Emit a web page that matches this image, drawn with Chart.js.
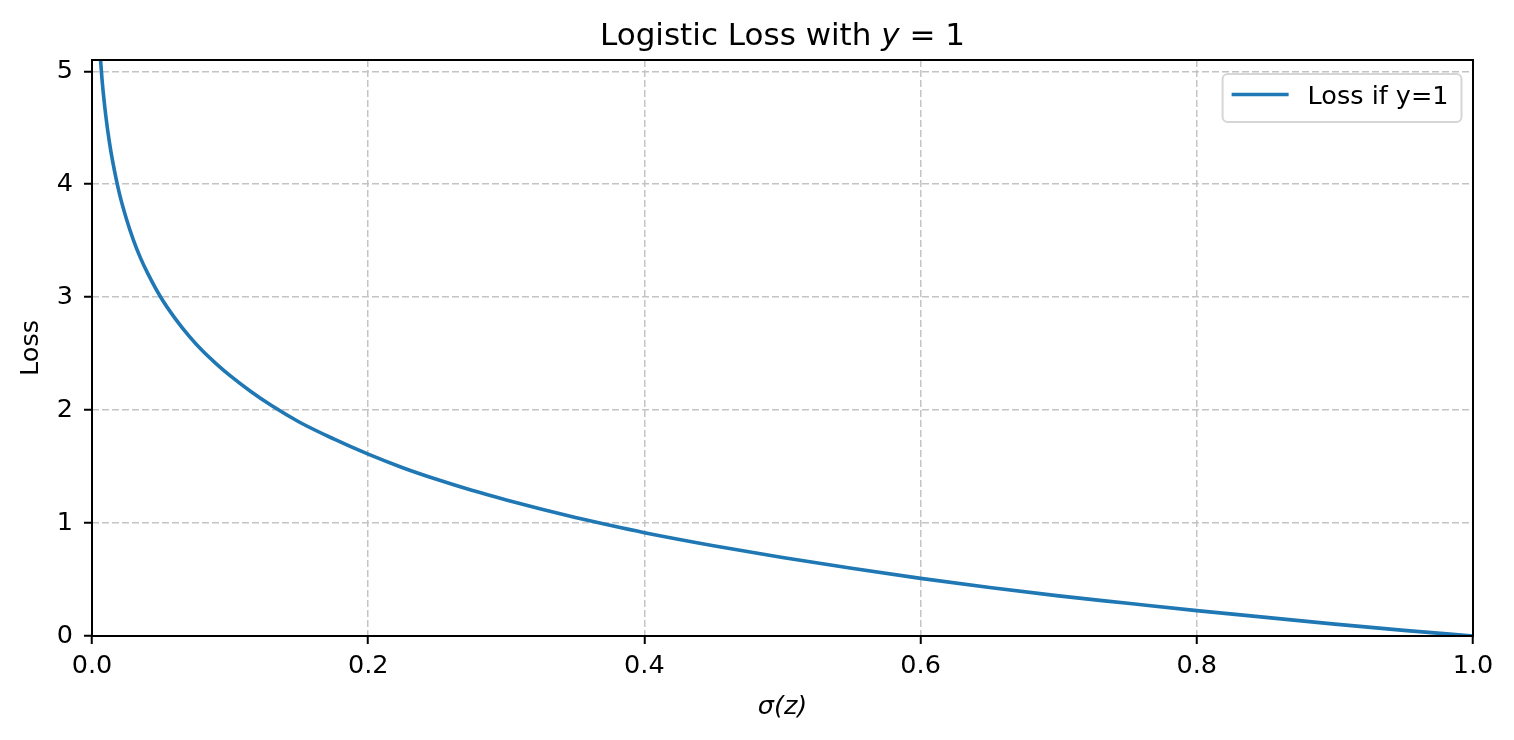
<!DOCTYPE html>
<html>
<head>
<meta charset="utf-8">
<script src="https://cdn.jsdelivr.net/npm/chart.js@4.4.1/dist/chart.umd.min.js"></script>
<style>
  html, body { margin: 0; padding: 0; background: #fff; }
  #wrap { width: 1514px; height: 740px; }
</style>
</head>
<body>
<div id="wrap"><canvas id="loss-chart"></canvas></div>
<script>
// sigma(z) positions and the loss
var sigmaValues = [0.005, 0.0075, 0.01, 0.0125, 0.015, 0.02, 0.025, 0.03, 0.035, 0.04, 0.05, 0.06, 0.07, 0.08, 0.09, 0.1, 0.115, 0.13, 0.15, 0.175, 0.2, 0.225, 0.25, 0.275, 0.3, 0.325, 0.35, 0.375, 0.4, 0.45, 0.5, 0.55, 0.6, 0.65, 0.7, 0.75, 0.8, 0.85, 0.9, 0.95, 1.0];
var lossValues = [5.3, 4.895, 4.605, 4.38, 4.2, 3.91, 3.69, 3.505, 3.35, 3.22, 2.995, 2.815, 2.66, 2.525, 2.41, 2.305, 2.165, 2.04, 1.895, 1.745, 1.61, 1.49, 1.385, 1.29, 1.205, 1.125, 1.05, 0.98, 0.915, 0.8, 0.695, 0.6, 0.51, 0.43, 0.355, 0.29, 0.225, 0.165, 0.105, 0.05, 0];
var xTicks = [0, 0.2, 0.4, 0.6, 0.8, 1.0];
var yTicks = [0, 1, 2, 3, 4, 5];
var seriesLabel = 'Loss if y=1';
// title pieces: [text, font style]
var titleParts = [['Logistic Loss with ', 'normal'], ['y', 'italic'], [' = 1', 'normal']];

var FONT = "'DejaVu Sans', sans-serif";
var BLUE = '#1f77b4';
var TICK_SIZE = 25.5;
var TITLE_SIZE = 31;

// title centred over the plot area, with an italic y like mathtext
var titlePlugin = {
    id: 'mathTitle',
    afterDraw: function(chart) {
        var a = chart.chartArea, ctx = chart.ctx;
        ctx.save();
        var widths = titleParts.map(function(p) {
            ctx.font = p[1] + ' ' + TITLE_SIZE + 'px ' + FONT;
            return ctx.measureText(p[0]).width;
        });
        var total = widths.reduce(function(s, w) { return s + w; }, 0);
        var x = (a.left + a.right) / 2 - total / 2;
        ctx.fillStyle = '#000';
        ctx.textBaseline = 'alphabetic';
        titleParts.forEach(function(p, i) {
            ctx.font = p[1] + ' ' + TITLE_SIZE + 'px ' + FONT;
            ctx.fillText(p[0], x, 45);
            x += widths[i];
        });
        ctx.restore();
    }
};

// black box around the plot, like matplotlib spines
var framePlugin = {
    id: 'frame',
    afterDraw: function(chart) {
        var a = chart.chartArea, ctx = chart.ctx;
        ctx.save();
        ctx.strokeStyle = '#000';
        ctx.lineWidth = 2;
        ctx.strokeRect(a.left, a.top, a.right - a.left, a.bottom - a.top);
        ctx.restore();
    }
};

// legend box in the upper right corner of the plot
var legendPlugin = {
    id: 'cornerLegend',
    afterDraw: function(chart) {
        var a = chart.chartArea, ctx = chart.ctx;
        var ds = chart.data.datasets[0];
        ctx.save();
        ctx.font = TICK_SIZE + 'px ' + FONT;
        var tw = ctx.measureText(ds.label).width;
        var w = 9 + 57 + 19 + tw + 13, h = 48;
        var x = a.right - 11.5 - w, y = a.top + 14;
        ctx.beginPath();
        ctx.roundRect(x, y, w, h, 5);
        ctx.fillStyle = 'rgba(255,255,255,0.8)';
        ctx.fill();
        ctx.strokeStyle = '#d6d6d6';
        ctx.lineWidth = 2;
        ctx.stroke();
        ctx.beginPath();
        ctx.moveTo(x + 9, y + 20.5);
        ctx.lineTo(x + 66, y + 20.5);
        ctx.strokeStyle = ds.borderColor;
        ctx.lineWidth = 3.5;
        ctx.stroke();
        ctx.fillStyle = '#000';
        ctx.textBaseline = 'middle';
        ctx.fillText(ds.label, x + 85, y + 23);
        ctx.restore();
    }
};

var config = {
    type: 'line',
    data: {
        datasets: [{
            label: seriesLabel,
            data: sigmaValues.map(function(s, i) { return { x: s, y: lossValues[i] }; }),
            borderColor: BLUE,
            backgroundColor: BLUE,
            borderWidth: 3.6,
            pointRadius: 0,
            cubicInterpolationMode: 'monotone',
            fill: false
        }]
    },
    plugins: [framePlugin, legendPlugin, titlePlugin],
    options: {
        responsive: true,
        maintainAspectRatio: false,
        animation: false,
        devicePixelRatio: 1,
        layout: { padding: { left: 0, right: 41, top: 60, bottom: 0 } },
        plugins: {
            legend: { display: false },
            tooltip: { enabled: false },
            title: { display: false }
        },
        scales: {
            x: {
                type: 'linear',
                min: 0,
                max: 1,
                afterFit: function(scale) { scale.height = 104; },
                afterBuildTicks: function(scale) {
                    scale.ticks = xTicks.map(function(v) { return { value: v }; });
                },
                ticks: {
                    color: '#000',
                    font: { family: FONT, size: TICK_SIZE },
                    padding: 7,
                    maxRotation: 0,
                    callback: function(v) { return Number(v).toFixed(1); }
                },
                grid: {
                    color: '#c4c4c4',
                    lineWidth: 1.5,
                    tickColor: '#000',
                    tickWidth: 2,
                    tickLength: 8,
                    tickBorderDash: []
                },
                border: { display: false, dash: [7, 3] },
                title: {
                    display: true,
                    text: 'σ(z)',
                    color: '#000',
                    font: { family: FONT, size: TICK_SIZE, style: 'italic' },
                    padding: { top: 0, bottom: 17.5 }
                }
            },
            y: {
                min: 0,
                max: 5.1,
                afterFit: function(scale) { scale.width = 92; },
                afterBuildTicks: function(scale) {
                    scale.ticks = yTicks.map(function(v) { return { value: v }; });
                },
                ticks: {
                    color: '#000',
                    font: { family: FONT, size: TICK_SIZE },
                    padding: 11
                },
                grid: {
                    color: '#c4c4c4',
                    lineWidth: 1.5,
                    tickColor: '#000',
                    tickWidth: 2,
                    tickLength: 8,
                    tickBorderDash: []
                },
                border: { display: false, dash: [7, 3] },
                title: {
                    display: true,
                    text: 'Loss',
                    color: '#000',
                    font: { family: FONT, size: TICK_SIZE },
                    padding: { top: 16.5, bottom: 0 }
                }
            }
        }
    }
};

window.lossChart = new Chart(document.getElementById('loss-chart').getContext('2d'), config);
</script>
</body>
</html>
